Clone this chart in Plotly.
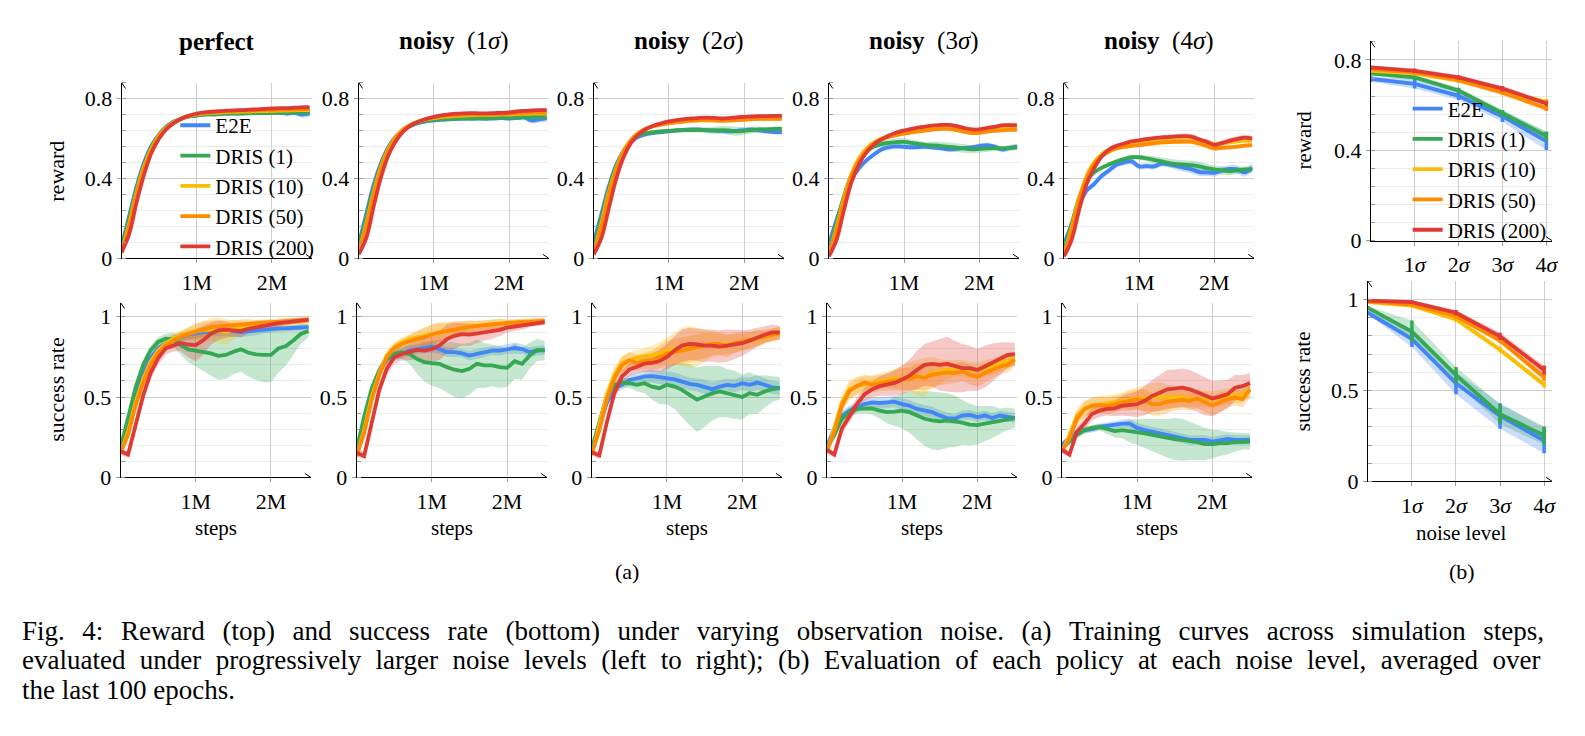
import plotly.graph_objects as go

FONT = "Liberation Serif"
W, H = 1585, 736

# ---------------- data ----------------
steps_m = [0.0, 0.1, 0.2, 0.3, 0.4, 0.5, 0.6, 0.7, 0.8, 0.9, 1.0, 1.1, 1.2,
           1.3, 1.4, 1.5, 1.6, 1.7, 1.8, 1.9, 2.0, 2.1, 2.2, 2.3, 2.4, 2.5]
noise_levels = [0, 1, 2, 3, 4]
series_names = ["E2E", "DRIS (1)", "DRIS (10)", "DRIS (50)", "DRIS (200)"]
series_colors = ["#4285F4", "#34A853", "#FBBC04", "#FF8C00", "#E03A34"]
series_fills = ["rgba(66,133,244,0.28)", "rgba(52,168,83,0.28)", "rgba(251,188,4,0.28)",
                "rgba(255,140,0,0.28)", "rgba(224,58,52,0.28)"]
panel_titles = ["<b>perfect</b>", "<b>noisy</b>  (1<i>σ</i>)", "<b>noisy</b>  (2<i>σ</i>)",
                "<b>noisy</b>  (3<i>σ</i>)", "<b>noisy</b>  (4<i>σ</i>)"]
step_tick_vals = [1, 2]
step_tick_text = ["1M", "2M"]
noise_tick_vals = [1, 2, 3, 4]
noise_tick_text = ["1<i>σ</i>", "2<i>σ</i>", "3<i>σ</i>", "4<i>σ</i>"]
reward_tick_vals = [0, 0.4, 0.8]
reward_tick_text = ["0", "0.4", "0.8"]
success_tick_vals = [0, 0.5, 1]
success_tick_text = ["0", "0.5", "1"]

# reward, perfect
reward_0s_e2e = [0.06, 0.21, 0.36, 0.48, 0.565, 0.62, 0.66, 0.685, 0.70, 0.71, 0.715, 0.72, 0.722, 0.724, 0.725, 0.726, 0.726, 0.727, 0.728, 0.728, 0.729, 0.73, 0.725, 0.728, 0.72, 0.725]
reward_0s_e2e_sd = [0.01, 0.015, 0.015, 0.012, 0.01, 0.008, 0.008, 0.008, 0.008, 0.008, 0.008, 0.008, 0.008, 0.008, 0.008, 0.008, 0.008, 0.008, 0.008, 0.01, 0.01, 0.01, 0.012, 0.012, 0.015, 0.015]
reward_0s_d1 = [0.05, 0.2, 0.35, 0.47, 0.56, 0.62, 0.66, 0.685, 0.70, 0.71, 0.715, 0.72, 0.72, 0.722, 0.724, 0.725, 0.725, 0.726, 0.727, 0.727, 0.728, 0.728, 0.729, 0.73, 0.73, 0.73]
reward_0s_d1_sd = [0.01, 0.012, 0.012, 0.01, 0.008, 0.008, 0.008, 0.008, 0.008, 0.008, 0.008, 0.008, 0.008, 0.008, 0.008, 0.008, 0.008, 0.008, 0.008, 0.008, 0.008, 0.01, 0.01, 0.01, 0.01, 0.01]
reward_0s_d10 = [0.03, 0.17, 0.33, 0.46, 0.55, 0.615, 0.655, 0.682, 0.70, 0.712, 0.72, 0.725, 0.728, 0.73, 0.732, 0.733, 0.734, 0.735, 0.736, 0.737, 0.738, 0.739, 0.74, 0.741, 0.742, 0.742]
reward_0s_d10_sd = [0.008, 0.01, 0.01, 0.008, 0.008, 0.006, 0.006, 0.006, 0.006, 0.006, 0.006, 0.006, 0.006, 0.006, 0.006, 0.006, 0.006, 0.006, 0.006, 0.006, 0.006, 0.006, 0.006, 0.006, 0.006, 0.006]
reward_0s_d50 = [0.03, 0.16, 0.32, 0.45, 0.545, 0.61, 0.652, 0.68, 0.70, 0.713, 0.722, 0.728, 0.731, 0.734, 0.736, 0.738, 0.739, 0.74, 0.741, 0.742, 0.743, 0.744, 0.745, 0.746, 0.747, 0.747]
reward_0s_d50_sd = [0.008, 0.01, 0.01, 0.008, 0.008, 0.006, 0.006, 0.006, 0.006, 0.006, 0.006, 0.006, 0.006, 0.006, 0.006, 0.006, 0.006, 0.006, 0.006, 0.006, 0.006, 0.006, 0.006, 0.006, 0.006, 0.006]
reward_0s_d200 = [0.03, 0.12, 0.28, 0.42, 0.53, 0.60, 0.648, 0.678, 0.70, 0.714, 0.724, 0.73, 0.734, 0.737, 0.739, 0.741, 0.742, 0.744, 0.746, 0.748, 0.75, 0.752, 0.752, 0.754, 0.756, 0.756]
reward_0s_d200_sd = [0.008, 0.01, 0.012, 0.01, 0.008, 0.006, 0.006, 0.006, 0.006, 0.006, 0.006, 0.006, 0.006, 0.006, 0.006, 0.006, 0.006, 0.006, 0.006, 0.006, 0.006, 0.006, 0.006, 0.008, 0.008, 0.008]

# reward, noisy 1 sigma
reward_1s_e2e = [0.07, 0.22, 0.37, 0.48, 0.56, 0.612, 0.645, 0.665, 0.678, 0.686, 0.69, 0.694, 0.696, 0.698, 0.70, 0.70, 0.70, 0.70, 0.70, 0.702, 0.70, 0.702, 0.705, 0.69, 0.695, 0.70]
reward_1s_e2e_sd = [0.01, 0.015, 0.015, 0.012, 0.01, 0.008, 0.008, 0.008, 0.008, 0.008, 0.008, 0.008, 0.008, 0.008, 0.008, 0.008, 0.008, 0.008, 0.008, 0.008, 0.01, 0.01, 0.01, 0.015, 0.015, 0.012]
reward_1s_d1 = [0.05, 0.2, 0.35, 0.47, 0.555, 0.61, 0.645, 0.665, 0.68, 0.688, 0.693, 0.696, 0.698, 0.70, 0.70, 0.70, 0.702, 0.70, 0.703, 0.705, 0.704, 0.706, 0.706, 0.708, 0.708, 0.708]
reward_1s_d1_sd = [0.01, 0.012, 0.012, 0.01, 0.008, 0.008, 0.008, 0.008, 0.008, 0.01, 0.01, 0.012, 0.012, 0.012, 0.01, 0.012, 0.012, 0.01, 0.01, 0.012, 0.012, 0.01, 0.01, 0.01, 0.01, 0.01]
reward_1s_d10 = [0.03, 0.17, 0.33, 0.46, 0.55, 0.61, 0.648, 0.67, 0.685, 0.695, 0.702, 0.707, 0.71, 0.713, 0.715, 0.716, 0.717, 0.718, 0.718, 0.72, 0.72, 0.722, 0.724, 0.725, 0.725, 0.725]
reward_1s_d10_sd = [0.008, 0.01, 0.01, 0.008, 0.008, 0.006, 0.006, 0.006, 0.006, 0.006, 0.006, 0.006, 0.006, 0.006, 0.006, 0.006, 0.006, 0.006, 0.006, 0.006, 0.006, 0.006, 0.006, 0.006, 0.006, 0.006]
reward_1s_d50 = [0.03, 0.16, 0.32, 0.45, 0.545, 0.605, 0.645, 0.67, 0.686, 0.697, 0.705, 0.71, 0.714, 0.717, 0.719, 0.72, 0.72, 0.72, 0.721, 0.722, 0.724, 0.726, 0.728, 0.73, 0.73, 0.73]
reward_1s_d50_sd = [0.008, 0.01, 0.01, 0.008, 0.008, 0.006, 0.006, 0.006, 0.006, 0.006, 0.006, 0.006, 0.006, 0.006, 0.006, 0.006, 0.006, 0.006, 0.006, 0.006, 0.006, 0.006, 0.006, 0.006, 0.006, 0.006]
reward_1s_d200 = [0.02, 0.1, 0.26, 0.41, 0.52, 0.59, 0.638, 0.667, 0.685, 0.698, 0.708, 0.715, 0.72, 0.724, 0.726, 0.727, 0.726, 0.726, 0.727, 0.728, 0.73, 0.735, 0.738, 0.74, 0.742, 0.742]
reward_1s_d200_sd = [0.008, 0.01, 0.012, 0.01, 0.008, 0.006, 0.006, 0.006, 0.006, 0.006, 0.006, 0.006, 0.006, 0.006, 0.006, 0.006, 0.006, 0.006, 0.006, 0.006, 0.006, 0.008, 0.008, 0.008, 0.008, 0.008]

# reward, noisy 2 sigma
reward_2s_e2e = [0.08, 0.22, 0.36, 0.47, 0.54, 0.585, 0.61, 0.622, 0.628, 0.632, 0.636, 0.64, 0.643, 0.645, 0.645, 0.642, 0.64, 0.638, 0.635, 0.638, 0.642, 0.645, 0.64, 0.636, 0.632, 0.632]
reward_2s_e2e_sd = [0.01, 0.015, 0.015, 0.012, 0.01, 0.01, 0.01, 0.01, 0.01, 0.01, 0.01, 0.01, 0.01, 0.01, 0.01, 0.01, 0.01, 0.01, 0.01, 0.01, 0.01, 0.01, 0.012, 0.012, 0.012, 0.012]
reward_2s_d1 = [0.05, 0.2, 0.35, 0.46, 0.54, 0.59, 0.615, 0.627, 0.632, 0.636, 0.638, 0.64, 0.642, 0.643, 0.642, 0.641, 0.64, 0.642, 0.64, 0.635, 0.638, 0.642, 0.645, 0.646, 0.648, 0.648]
reward_2s_d1_sd = [0.01, 0.012, 0.012, 0.01, 0.008, 0.008, 0.008, 0.008, 0.01, 0.01, 0.01, 0.012, 0.012, 0.012, 0.012, 0.015, 0.018, 0.02, 0.022, 0.022, 0.02, 0.018, 0.015, 0.012, 0.012, 0.012]
reward_2s_d10 = [0.03, 0.17, 0.33, 0.45, 0.54, 0.595, 0.628, 0.65, 0.662, 0.67, 0.676, 0.68, 0.684, 0.688, 0.69, 0.69, 0.689, 0.688, 0.689, 0.692, 0.695, 0.697, 0.698, 0.699, 0.70, 0.70]
reward_2s_d10_sd = [0.008, 0.01, 0.01, 0.008, 0.008, 0.006, 0.006, 0.006, 0.006, 0.006, 0.006, 0.006, 0.006, 0.006, 0.006, 0.006, 0.006, 0.006, 0.006, 0.006, 0.006, 0.006, 0.006, 0.006, 0.006, 0.006]
reward_2s_d50 = [0.03, 0.16, 0.32, 0.445, 0.535, 0.593, 0.628, 0.65, 0.662, 0.67, 0.677, 0.682, 0.686, 0.69, 0.692, 0.693, 0.692, 0.69, 0.691, 0.692, 0.695, 0.697, 0.698, 0.698, 0.698, 0.698]
reward_2s_d50_sd = [0.008, 0.01, 0.01, 0.008, 0.008, 0.006, 0.006, 0.006, 0.006, 0.006, 0.006, 0.006, 0.006, 0.006, 0.006, 0.006, 0.006, 0.006, 0.006, 0.006, 0.006, 0.006, 0.006, 0.006, 0.006, 0.006]
reward_2s_d200 = [0.02, 0.1, 0.25, 0.40, 0.51, 0.58, 0.622, 0.648, 0.665, 0.676, 0.685, 0.692, 0.697, 0.70, 0.703, 0.704, 0.703, 0.70, 0.702, 0.706, 0.708, 0.71, 0.712, 0.712, 0.713, 0.713]
reward_2s_d200_sd = [0.008, 0.01, 0.012, 0.01, 0.008, 0.006, 0.006, 0.006, 0.006, 0.006, 0.006, 0.006, 0.006, 0.006, 0.006, 0.006, 0.006, 0.006, 0.006, 0.008, 0.008, 0.008, 0.008, 0.008, 0.008, 0.008]

# reward, noisy 3 sigma
reward_3s_e2e = [0.07, 0.19, 0.30, 0.39, 0.45, 0.49, 0.52, 0.545, 0.556, 0.56, 0.558, 0.556, 0.557, 0.558, 0.554, 0.55, 0.545, 0.548, 0.552, 0.555, 0.562, 0.567, 0.56, 0.545, 0.552, 0.559]
reward_3s_e2e_sd = [0.01, 0.015, 0.015, 0.015, 0.012, 0.012, 0.012, 0.012, 0.012, 0.012, 0.012, 0.012, 0.012, 0.012, 0.012, 0.012, 0.012, 0.012, 0.012, 0.012, 0.012, 0.012, 0.012, 0.015, 0.015, 0.012]
reward_3s_d1 = [0.04, 0.17, 0.31, 0.42, 0.49, 0.535, 0.56, 0.572, 0.578, 0.582, 0.583, 0.578, 0.572, 0.567, 0.565, 0.562, 0.558, 0.554, 0.55, 0.546, 0.548, 0.55, 0.552, 0.55, 0.553, 0.556]
reward_3s_d1_sd = [0.01, 0.012, 0.012, 0.01, 0.01, 0.01, 0.012, 0.015, 0.018, 0.018, 0.018, 0.015, 0.015, 0.015, 0.018, 0.02, 0.022, 0.022, 0.022, 0.02, 0.02, 0.018, 0.015, 0.012, 0.012, 0.012]
reward_3s_d10 = [0.02, 0.15, 0.30, 0.42, 0.50, 0.55, 0.58, 0.60, 0.613, 0.622, 0.63, 0.636, 0.641, 0.646, 0.65, 0.653, 0.654, 0.65, 0.642, 0.638, 0.64, 0.645, 0.65, 0.655, 0.657, 0.657]
reward_3s_d10_sd = [0.008, 0.01, 0.01, 0.008, 0.008, 0.008, 0.008, 0.008, 0.008, 0.008, 0.008, 0.008, 0.008, 0.008, 0.008, 0.008, 0.008, 0.008, 0.008, 0.008, 0.008, 0.008, 0.008, 0.008, 0.008, 0.008]
reward_3s_d50 = [0.02, 0.14, 0.29, 0.41, 0.49, 0.54, 0.575, 0.595, 0.608, 0.617, 0.624, 0.63, 0.636, 0.64, 0.645, 0.648, 0.648, 0.642, 0.633, 0.627, 0.628, 0.634, 0.638, 0.64, 0.643, 0.643]
reward_3s_d50_sd = [0.008, 0.01, 0.01, 0.008, 0.008, 0.008, 0.008, 0.008, 0.008, 0.008, 0.008, 0.008, 0.008, 0.008, 0.008, 0.008, 0.008, 0.01, 0.01, 0.01, 0.01, 0.008, 0.008, 0.008, 0.008, 0.008]
reward_3s_d200 = [0.01, 0.09, 0.24, 0.38, 0.47, 0.53, 0.57, 0.595, 0.615, 0.63, 0.64, 0.648, 0.655, 0.661, 0.665, 0.668, 0.668, 0.662, 0.652, 0.645, 0.645, 0.652, 0.658, 0.665, 0.667, 0.665]
reward_3s_d200_sd = [0.008, 0.01, 0.012, 0.01, 0.008, 0.008, 0.008, 0.008, 0.008, 0.008, 0.008, 0.008, 0.008, 0.008, 0.008, 0.008, 0.008, 0.01, 0.01, 0.01, 0.01, 0.01, 0.01, 0.01, 0.01, 0.01]

# reward, noisy 4 sigma
reward_4s_e2e = [0.07, 0.17, 0.26, 0.339, 0.371, 0.412, 0.44, 0.469, 0.48, 0.485, 0.46, 0.462, 0.46, 0.474, 0.47, 0.462, 0.453, 0.445, 0.432, 0.43, 0.428, 0.44, 0.448, 0.445, 0.43, 0.453]
reward_4s_e2e_sd = [0.01, 0.015, 0.015, 0.015, 0.015, 0.015, 0.015, 0.015, 0.015, 0.015, 0.015, 0.015, 0.015, 0.015, 0.015, 0.018, 0.02, 0.02, 0.02, 0.018, 0.018, 0.018, 0.018, 0.02, 0.02, 0.02]
reward_4s_d1 = [0.04, 0.17, 0.30, 0.39, 0.43, 0.453, 0.47, 0.485, 0.497, 0.506, 0.506, 0.50, 0.493, 0.485, 0.477, 0.472, 0.469, 0.466, 0.46, 0.452, 0.445, 0.44, 0.436, 0.44, 0.445, 0.445]
reward_4s_d1_sd = [0.01, 0.012, 0.012, 0.01, 0.01, 0.01, 0.012, 0.012, 0.012, 0.012, 0.012, 0.015, 0.018, 0.02, 0.022, 0.022, 0.022, 0.022, 0.022, 0.022, 0.02, 0.02, 0.02, 0.018, 0.015, 0.015]
reward_4s_d10 = [0.02, 0.15, 0.30, 0.41, 0.48, 0.52, 0.545, 0.558, 0.566, 0.572, 0.578, 0.582, 0.585, 0.588, 0.59, 0.59, 0.59, 0.588, 0.583, 0.576, 0.572, 0.576, 0.58, 0.585, 0.589, 0.591]
reward_4s_d10_sd = [0.008, 0.01, 0.01, 0.01, 0.01, 0.01, 0.01, 0.01, 0.01, 0.01, 0.01, 0.01, 0.01, 0.01, 0.01, 0.01, 0.01, 0.01, 0.01, 0.01, 0.01, 0.01, 0.01, 0.01, 0.01, 0.01]
reward_4s_d50 = [0.02, 0.14, 0.29, 0.40, 0.47, 0.51, 0.535, 0.55, 0.558, 0.563, 0.567, 0.572, 0.576, 0.58, 0.582, 0.583, 0.584, 0.583, 0.574, 0.562, 0.55, 0.553, 0.556, 0.559, 0.564, 0.567]
reward_4s_d50_sd = [0.008, 0.01, 0.01, 0.01, 0.01, 0.01, 0.01, 0.01, 0.01, 0.01, 0.01, 0.01, 0.01, 0.01, 0.01, 0.01, 0.01, 0.01, 0.012, 0.012, 0.012, 0.01, 0.01, 0.01, 0.01, 0.01]
reward_4s_d200 = [0.01, 0.09, 0.24, 0.37, 0.45, 0.51, 0.545, 0.563, 0.575, 0.585, 0.591, 0.597, 0.602, 0.605, 0.608, 0.61, 0.612, 0.608, 0.595, 0.583, 0.568, 0.577, 0.588, 0.597, 0.604, 0.60]
reward_4s_d200_sd = [0.008, 0.01, 0.012, 0.01, 0.01, 0.01, 0.01, 0.01, 0.01, 0.01, 0.01, 0.01, 0.01, 0.01, 0.012, 0.012, 0.014, 0.014, 0.014, 0.014, 0.014, 0.014, 0.014, 0.014, 0.012, 0.012]

# success, perfect
success_0s_e2e = [0.163, 0.325, 0.508, 0.65, 0.742, 0.803, 0.833, 0.854, 0.874, 0.888, 0.898, 0.904, 0.91, 0.912, 0.915, 0.91, 0.904, 0.91, 0.915, 0.92, 0.925, 0.927, 0.928, 0.93, 0.933, 0.935]
success_0s_e2e_sd = [0.02, 0.03, 0.03, 0.03, 0.03, 0.03, 0.03, 0.03, 0.03, 0.03, 0.03, 0.03, 0.03, 0.035, 0.035, 0.035, 0.03, 0.03, 0.03, 0.025, 0.025, 0.02, 0.02, 0.02, 0.02, 0.02]
success_0s_d1 = [0.183, 0.366, 0.559, 0.70, 0.79, 0.843, 0.864, 0.86, 0.823, 0.797, 0.79, 0.782, 0.772, 0.756, 0.762, 0.782, 0.797, 0.776, 0.766, 0.762, 0.762, 0.803, 0.817, 0.854, 0.894, 0.91]
success_0s_d1_sd = [0.02, 0.03, 0.03, 0.03, 0.03, 0.03, 0.03, 0.04, 0.06, 0.08, 0.1, 0.12, 0.14, 0.15, 0.15, 0.14, 0.14, 0.15, 0.16, 0.17, 0.17, 0.15, 0.12, 0.09, 0.06, 0.04]
success_0s_d10 = [0.152, 0.285, 0.467, 0.61, 0.72, 0.79, 0.833, 0.864, 0.884, 0.898, 0.91, 0.915, 0.92, 0.915, 0.904, 0.92, 0.935, 0.94, 0.945, 0.95, 0.955, 0.96, 0.965, 0.968, 0.972, 0.975]
success_0s_d10_sd = [0.02, 0.03, 0.03, 0.03, 0.03, 0.03, 0.03, 0.03, 0.03, 0.04, 0.05, 0.06, 0.07, 0.08, 0.08, 0.06, 0.04, 0.03, 0.03, 0.03, 0.02, 0.02, 0.02, 0.02, 0.02, 0.02]
success_0s_d50 = [0.152, 0.264, 0.447, 0.589, 0.70, 0.776, 0.823, 0.854, 0.878, 0.892, 0.904, 0.92, 0.935, 0.94, 0.945, 0.951, 0.953, 0.956, 0.96, 0.963, 0.965, 0.968, 0.972, 0.975, 0.978, 0.98]
success_0s_d50_sd = [0.02, 0.03, 0.03, 0.03, 0.03, 0.03, 0.03, 0.03, 0.03, 0.04, 0.05, 0.05, 0.04, 0.04, 0.03, 0.03, 0.03, 0.03, 0.02, 0.02, 0.02, 0.02, 0.02, 0.02, 0.02, 0.02]
success_0s_d200 = [0.163, 0.142, 0.325, 0.508, 0.65, 0.742, 0.803, 0.823, 0.837, 0.827, 0.823, 0.854, 0.894, 0.915, 0.919, 0.915, 0.91, 0.925, 0.935, 0.945, 0.955, 0.96, 0.965, 0.972, 0.976, 0.982]
success_0s_d200_sd = [0.02, 0.02, 0.03, 0.04, 0.04, 0.04, 0.04, 0.04, 0.05, 0.08, 0.1, 0.09, 0.07, 0.06, 0.05, 0.04, 0.04, 0.03, 0.03, 0.03, 0.02, 0.02, 0.02, 0.02, 0.015, 0.015]

# success, noisy 1 sigma
success_1s_e2e = [0.154, 0.338, 0.522, 0.656, 0.738, 0.758, 0.768, 0.789, 0.799, 0.809, 0.813, 0.799, 0.779, 0.779, 0.772, 0.758, 0.768, 0.779, 0.789, 0.789, 0.799, 0.805, 0.799, 0.779, 0.789, 0.793]
success_1s_e2e_sd = [0.02, 0.03, 0.03, 0.035, 0.035, 0.03, 0.03, 0.03, 0.03, 0.035, 0.035, 0.03, 0.03, 0.03, 0.025, 0.03, 0.03, 0.03, 0.025, 0.03, 0.03, 0.035, 0.03, 0.03, 0.03, 0.03]
success_1s_d1 = [0.174, 0.379, 0.553, 0.666, 0.738, 0.768, 0.779, 0.768, 0.738, 0.717, 0.711, 0.707, 0.686, 0.67, 0.662, 0.676, 0.707, 0.697, 0.697, 0.686, 0.682, 0.723, 0.707, 0.758, 0.793, 0.789]
success_1s_d1_sd = [0.02, 0.03, 0.03, 0.03, 0.03, 0.03, 0.04, 0.06, 0.09, 0.12, 0.14, 0.15, 0.16, 0.17, 0.17, 0.16, 0.15, 0.14, 0.13, 0.13, 0.12, 0.11, 0.1, 0.08, 0.07, 0.06]
success_1s_d10 = [0.133, 0.297, 0.502, 0.645, 0.758, 0.809, 0.84, 0.861, 0.871, 0.881, 0.891, 0.902, 0.912, 0.92, 0.928, 0.935, 0.943, 0.948, 0.953, 0.956, 0.959, 0.962, 0.965, 0.968, 0.97, 0.973]
success_1s_d10_sd = [0.02, 0.03, 0.03, 0.03, 0.03, 0.03, 0.03, 0.03, 0.04, 0.05, 0.06, 0.06, 0.05, 0.05, 0.04, 0.04, 0.03, 0.03, 0.03, 0.03, 0.02, 0.02, 0.02, 0.02, 0.02, 0.02]
success_1s_d50 = [0.133, 0.277, 0.482, 0.635, 0.748, 0.805, 0.83, 0.846, 0.861, 0.871, 0.891, 0.902, 0.912, 0.922, 0.932, 0.937, 0.943, 0.948, 0.953, 0.958, 0.963, 0.965, 0.967, 0.969, 0.971, 0.973]
success_1s_d50_sd = [0.02, 0.03, 0.03, 0.03, 0.03, 0.03, 0.03, 0.04, 0.05, 0.06, 0.06, 0.06, 0.05, 0.05, 0.04, 0.04, 0.03, 0.03, 0.03, 0.03, 0.02, 0.02, 0.02, 0.02, 0.02, 0.02]
success_1s_d200 = [0.154, 0.133, 0.338, 0.543, 0.676, 0.748, 0.768, 0.779, 0.793, 0.789, 0.799, 0.82, 0.861, 0.881, 0.891, 0.888, 0.895, 0.902, 0.912, 0.918, 0.932, 0.94, 0.949, 0.956, 0.963, 0.967]
success_1s_d200_sd = [0.02, 0.02, 0.03, 0.04, 0.04, 0.04, 0.04, 0.05, 0.06, 0.07, 0.08, 0.09, 0.09, 0.08, 0.07, 0.07, 0.06, 0.05, 0.05, 0.04, 0.03, 0.03, 0.03, 0.02, 0.02, 0.02]

# success, noisy 2 sigma
success_2s_e2e = [0.167, 0.32, 0.463, 0.555, 0.576, 0.606, 0.616, 0.627, 0.63, 0.622, 0.616, 0.61, 0.596, 0.582, 0.576, 0.565, 0.549, 0.565, 0.576, 0.57, 0.586, 0.576, 0.59, 0.576, 0.561, 0.555]
success_2s_e2e_sd = [0.02, 0.03, 0.03, 0.03, 0.03, 0.03, 0.035, 0.04, 0.04, 0.04, 0.045, 0.045, 0.04, 0.04, 0.04, 0.045, 0.045, 0.04, 0.04, 0.04, 0.04, 0.045, 0.045, 0.04, 0.04, 0.04]
success_2s_d1 = [0.178, 0.341, 0.504, 0.576, 0.59, 0.586, 0.576, 0.586, 0.565, 0.555, 0.576, 0.565, 0.545, 0.514, 0.484, 0.504, 0.524, 0.535, 0.524, 0.514, 0.50, 0.524, 0.514, 0.535, 0.549, 0.555]
success_2s_d1_sd = [0.02, 0.03, 0.03, 0.03, 0.03, 0.03, 0.04, 0.06, 0.08, 0.1, 0.12, 0.14, 0.17, 0.19, 0.2, 0.19, 0.17, 0.16, 0.15, 0.15, 0.14, 0.13, 0.12, 0.1, 0.08, 0.07]
success_2s_d10 = [0.137, 0.32, 0.514, 0.637, 0.712, 0.729, 0.745, 0.753, 0.76, 0.77, 0.79, 0.80, 0.81, 0.814, 0.81, 0.82, 0.831, 0.831, 0.827, 0.835, 0.841, 0.85, 0.861, 0.872, 0.882, 0.896]
success_2s_d10_sd = [0.02, 0.03, 0.04, 0.05, 0.05, 0.05, 0.05, 0.05, 0.06, 0.07, 0.08, 0.1, 0.12, 0.13, 0.12, 0.1, 0.08, 0.07, 0.06, 0.06, 0.05, 0.05, 0.05, 0.04, 0.04, 0.04]
success_2s_d50 = [0.147, 0.29, 0.484, 0.616, 0.698, 0.729, 0.712, 0.724, 0.729, 0.749, 0.77, 0.78, 0.79, 0.80, 0.81, 0.82, 0.831, 0.831, 0.82, 0.835, 0.847, 0.857, 0.867, 0.878, 0.888, 0.896]
success_2s_d50_sd = [0.02, 0.03, 0.04, 0.05, 0.05, 0.05, 0.05, 0.05, 0.06, 0.07, 0.08, 0.08, 0.08, 0.08, 0.08, 0.08, 0.07, 0.07, 0.07, 0.06, 0.06, 0.05, 0.05, 0.04, 0.04, 0.04]
success_2s_d200 = [0.157, 0.137, 0.341, 0.524, 0.627, 0.671, 0.688, 0.708, 0.712, 0.724, 0.749, 0.79, 0.82, 0.831, 0.827, 0.82, 0.82, 0.814, 0.82, 0.827, 0.835, 0.851, 0.871, 0.888, 0.902, 0.902]
success_2s_d200_sd = [0.02, 0.02, 0.03, 0.04, 0.04, 0.04, 0.04, 0.05, 0.06, 0.07, 0.08, 0.09, 0.1, 0.1, 0.1, 0.1, 0.1, 0.1, 0.1, 0.09, 0.08, 0.07, 0.06, 0.05, 0.05, 0.04]

# success, noisy 3 sigma
success_3s_e2e = [0.193, 0.304, 0.385, 0.416, 0.436, 0.456, 0.467, 0.463, 0.467, 0.471, 0.456, 0.446, 0.426, 0.416, 0.406, 0.385, 0.369, 0.365, 0.385, 0.389, 0.375, 0.385, 0.369, 0.385, 0.375, 0.369]
success_3s_e2e_sd = [0.02, 0.03, 0.03, 0.03, 0.03, 0.03, 0.03, 0.035, 0.035, 0.035, 0.035, 0.035, 0.035, 0.035, 0.035, 0.035, 0.035, 0.03, 0.03, 0.03, 0.03, 0.03, 0.03, 0.03, 0.03, 0.03]
success_3s_d1 = [0.183, 0.264, 0.365, 0.406, 0.426, 0.43, 0.43, 0.416, 0.406, 0.41, 0.416, 0.406, 0.385, 0.365, 0.355, 0.349, 0.355, 0.349, 0.341, 0.329, 0.325, 0.335, 0.345, 0.349, 0.365, 0.369]
success_3s_d1_sd = [0.02, 0.03, 0.03, 0.03, 0.03, 0.03, 0.04, 0.05, 0.07, 0.09, 0.11, 0.13, 0.15, 0.17, 0.18, 0.18, 0.17, 0.16, 0.14, 0.13, 0.12, 0.11, 0.1, 0.08, 0.07, 0.06]
success_3s_d10 = [0.152, 0.304, 0.467, 0.548, 0.568, 0.578, 0.588, 0.598, 0.609, 0.614, 0.619, 0.629, 0.619, 0.625, 0.649, 0.659, 0.669, 0.68, 0.68, 0.669, 0.665, 0.68, 0.69, 0.71, 0.726, 0.74]
success_3s_d10_sd = [0.02, 0.03, 0.05, 0.06, 0.06, 0.05, 0.05, 0.05, 0.05, 0.06, 0.07, 0.09, 0.11, 0.12, 0.1, 0.08, 0.06, 0.05, 0.05, 0.05, 0.05, 0.05, 0.05, 0.05, 0.05, 0.04]
success_3s_d50 = [0.162, 0.284, 0.446, 0.538, 0.568, 0.592, 0.578, 0.588, 0.592, 0.604, 0.609, 0.614, 0.629, 0.62, 0.639, 0.645, 0.653, 0.649, 0.659, 0.639, 0.625, 0.649, 0.669, 0.69, 0.70, 0.734]
success_3s_d50_sd = [0.02, 0.03, 0.04, 0.05, 0.05, 0.05, 0.05, 0.05, 0.05, 0.06, 0.07, 0.07, 0.08, 0.08, 0.08, 0.07, 0.07, 0.06, 0.06, 0.06, 0.06, 0.06, 0.05, 0.05, 0.05, 0.04]
success_3s_d200 = [0.172, 0.142, 0.304, 0.385, 0.456, 0.517, 0.548, 0.568, 0.578, 0.588, 0.609, 0.633, 0.669, 0.70, 0.706, 0.70, 0.706, 0.69, 0.68, 0.68, 0.669, 0.69, 0.714, 0.74, 0.761, 0.767]
success_3s_d200_sd = [0.02, 0.02, 0.03, 0.04, 0.04, 0.04, 0.05, 0.06, 0.07, 0.08, 0.09, 0.1, 0.12, 0.13, 0.14, 0.16, 0.17, 0.16, 0.15, 0.14, 0.13, 0.13, 0.12, 0.1, 0.08, 0.07]

# success, noisy 4 sigma
success_4s_e2e = [0.203, 0.243, 0.284, 0.294, 0.30, 0.314, 0.32, 0.325, 0.335, 0.335, 0.308, 0.294, 0.284, 0.274, 0.264, 0.254, 0.243, 0.233, 0.233, 0.233, 0.223, 0.233, 0.239, 0.233, 0.233, 0.233]
success_4s_e2e_sd = [0.02, 0.02, 0.02, 0.02, 0.02, 0.02, 0.02, 0.025, 0.025, 0.03, 0.03, 0.03, 0.03, 0.03, 0.03, 0.03, 0.03, 0.03, 0.03, 0.03, 0.03, 0.03, 0.03, 0.03, 0.03, 0.03]
success_4s_d1 = [0.183, 0.223, 0.264, 0.294, 0.308, 0.314, 0.30, 0.288, 0.294, 0.288, 0.284, 0.274, 0.264, 0.254, 0.243, 0.239, 0.233, 0.227, 0.219, 0.207, 0.207, 0.213, 0.213, 0.219, 0.223, 0.223]
success_4s_d1_sd = [0.02, 0.02, 0.02, 0.02, 0.02, 0.02, 0.03, 0.04, 0.05, 0.07, 0.08, 0.09, 0.1, 0.11, 0.12, 0.13, 0.13, 0.12, 0.11, 0.1, 0.09, 0.08, 0.07, 0.06, 0.05, 0.05]
success_4s_d10 = [0.162, 0.264, 0.385, 0.426, 0.446, 0.456, 0.46, 0.467, 0.477, 0.487, 0.491, 0.497, 0.497, 0.503, 0.497, 0.503, 0.497, 0.491, 0.487, 0.491, 0.487, 0.497, 0.503, 0.511, 0.517, 0.548]
success_4s_d10_sd = [0.02, 0.03, 0.05, 0.05, 0.05, 0.05, 0.05, 0.05, 0.05, 0.06, 0.07, 0.08, 0.09, 0.09, 0.08, 0.07, 0.06, 0.05, 0.05, 0.05, 0.05, 0.05, 0.05, 0.05, 0.05, 0.05]
success_4s_d50 = [0.162, 0.243, 0.365, 0.426, 0.446, 0.45, 0.446, 0.456, 0.467, 0.477, 0.487, 0.477, 0.456, 0.456, 0.471, 0.477, 0.483, 0.477, 0.491, 0.467, 0.446, 0.467, 0.487, 0.497, 0.487, 0.548]
success_4s_d50_sd = [0.02, 0.03, 0.04, 0.05, 0.05, 0.05, 0.05, 0.05, 0.05, 0.06, 0.06, 0.07, 0.07, 0.07, 0.07, 0.06, 0.06, 0.06, 0.06, 0.06, 0.06, 0.06, 0.05, 0.05, 0.05, 0.05]
success_4s_d200 = [0.172, 0.142, 0.284, 0.335, 0.395, 0.416, 0.426, 0.43, 0.446, 0.45, 0.456, 0.477, 0.507, 0.527, 0.548, 0.552, 0.558, 0.548, 0.527, 0.507, 0.491, 0.503, 0.517, 0.558, 0.568, 0.588]
success_4s_d200_sd = [0.02, 0.02, 0.03, 0.04, 0.04, 0.04, 0.04, 0.05, 0.06, 0.07, 0.08, 0.09, 0.1, 0.11, 0.12, 0.12, 0.12, 0.12, 0.12, 0.12, 0.11, 0.1, 0.09, 0.08, 0.07, 0.06]

# (b) evaluation at each noise level
eval_reward_e2e = [0.716, 0.694, 0.641, 0.55, 0.441]
eval_reward_e2e_sd = [0.012, 0.02, 0.018, 0.025, 0.04]
eval_reward_d1 = [0.741, 0.723, 0.665, 0.564, 0.463]
eval_reward_d1_sd = [0.01, 0.012, 0.012, 0.015, 0.02]
eval_reward_d10 = [0.752, 0.741, 0.709, 0.658, 0.615]
eval_reward_d10_sd = [0.008, 0.01, 0.01, 0.01, 0.012]
eval_reward_d50 = [0.76, 0.745, 0.712, 0.655, 0.586]
eval_reward_d50_sd = [0.008, 0.01, 0.01, 0.01, 0.012]
eval_reward_d200 = [0.767, 0.752, 0.723, 0.673, 0.608]
eval_reward_d200_sd = [0.008, 0.01, 0.01, 0.012, 0.012]

eval_success_e2e = [0.928, 0.784, 0.54, 0.36, 0.225]
eval_success_e2e_sd = [0.01, 0.045, 0.06, 0.07, 0.07]
eval_success_d1 = [0.955, 0.825, 0.585, 0.37, 0.252]
eval_success_d1_sd = [0.01, 0.06, 0.045, 0.055, 0.05]
eval_success_d10 = [0.987, 0.967, 0.892, 0.724, 0.532]
eval_success_d10_sd = [0.005, 0.01, 0.015, 0.015, 0.015]
eval_success_d50 = [0.99, 0.973, 0.91, 0.775, 0.573]
eval_success_d50_sd = [0.005, 0.01, 0.015, 0.015, 0.02]
eval_success_d200 = [0.995, 0.986, 0.928, 0.798, 0.613]
eval_success_d200_sd = [0.005, 0.01, 0.015, 0.02, 0.025]

caption_lines = [
    "Fig. 4: Reward (top) and success rate (bottom) under varying observation noise. (a) Training curves across simulation steps,",
    "evaluated under progressively larger noise levels (left to right); (b) Evaluation of each policy at each noise level, averaged over",
    "the last 100 epochs.",
]

# ---------------- grouping ----------------
reward_panels = [
    [(reward_0s_e2e, reward_0s_e2e_sd), (reward_0s_d1, reward_0s_d1_sd), (reward_0s_d10, reward_0s_d10_sd), (reward_0s_d50, reward_0s_d50_sd), (reward_0s_d200, reward_0s_d200_sd)],
    [(reward_1s_e2e, reward_1s_e2e_sd), (reward_1s_d1, reward_1s_d1_sd), (reward_1s_d10, reward_1s_d10_sd), (reward_1s_d50, reward_1s_d50_sd), (reward_1s_d200, reward_1s_d200_sd)],
    [(reward_2s_e2e, reward_2s_e2e_sd), (reward_2s_d1, reward_2s_d1_sd), (reward_2s_d10, reward_2s_d10_sd), (reward_2s_d50, reward_2s_d50_sd), (reward_2s_d200, reward_2s_d200_sd)],
    [(reward_3s_e2e, reward_3s_e2e_sd), (reward_3s_d1, reward_3s_d1_sd), (reward_3s_d10, reward_3s_d10_sd), (reward_3s_d50, reward_3s_d50_sd), (reward_3s_d200, reward_3s_d200_sd)],
    [(reward_4s_e2e, reward_4s_e2e_sd), (reward_4s_d1, reward_4s_d1_sd), (reward_4s_d10, reward_4s_d10_sd), (reward_4s_d50, reward_4s_d50_sd), (reward_4s_d200, reward_4s_d200_sd)],
]
success_panels = [
    [(success_0s_e2e, success_0s_e2e_sd), (success_0s_d1, success_0s_d1_sd), (success_0s_d10, success_0s_d10_sd), (success_0s_d50, success_0s_d50_sd), (success_0s_d200, success_0s_d200_sd)],
    [(success_1s_e2e, success_1s_e2e_sd), (success_1s_d1, success_1s_d1_sd), (success_1s_d10, success_1s_d10_sd), (success_1s_d50, success_1s_d50_sd), (success_1s_d200, success_1s_d200_sd)],
    [(success_2s_e2e, success_2s_e2e_sd), (success_2s_d1, success_2s_d1_sd), (success_2s_d10, success_2s_d10_sd), (success_2s_d50, success_2s_d50_sd), (success_2s_d200, success_2s_d200_sd)],
    [(success_3s_e2e, success_3s_e2e_sd), (success_3s_d1, success_3s_d1_sd), (success_3s_d10, success_3s_d10_sd), (success_3s_d50, success_3s_d50_sd), (success_3s_d200, success_3s_d200_sd)],
    [(success_4s_e2e, success_4s_e2e_sd), (success_4s_d1, success_4s_d1_sd), (success_4s_d10, success_4s_d10_sd), (success_4s_d50, success_4s_d50_sd), (success_4s_d200, success_4s_d200_sd)],
]
eval_reward = [(eval_reward_e2e, eval_reward_e2e_sd), (eval_reward_d1, eval_reward_d1_sd), (eval_reward_d10, eval_reward_d10_sd), (eval_reward_d50, eval_reward_d50_sd), (eval_reward_d200, eval_reward_d200_sd)]
eval_success = [(eval_success_e2e, eval_success_e2e_sd), (eval_success_d1, eval_success_d1_sd), (eval_success_d10, eval_success_d10_sd), (eval_success_d50, eval_success_d50_sd), (eval_success_d200, eval_success_d200_sd)]

# ---------------- geometry (pixels) ----------------
top_lefts = [122, 360, 596, 832, 1068]
bot_lefts = [121, 358, 594, 830, 1066]
PANEL_W = 191
TOP_Y = (84, 263)
BOT_Y = (308, 486)
STEP_RANGE = [0, 2.53]
REWARD_RANGE = [0, 0.88]
SUCCESS_RANGE = [0, 1.088]

GRID = "#cfcfcf"
MINOR = "#ececec"
TICKC = "#9a9a9a"


def pxx(x):
    return x / W


def pxy(y):
    return 1 - y / H


def ax_names(i):
    return ("x" if i == 1 else f"x{i}", "y" if i == 1 else f"y{i}")


def ax_keys(i):
    return ("xaxis" if i == 1 else f"xaxis{i}", "yaxis" if i == 1 else f"yaxis{i}")


tickfont = dict(family=FONT, size=22, color="black")

fig = go.Figure()
layout_axes = {}
shapes = []


def make_axes(i, xpix, ypix, xrange, yrange, xtv, xtt, ytv, ytt, ydt):
    xn, yn = ax_names(i)
    xk, yk = ax_keys(i)
    layout_axes[xk] = dict(
        domain=[pxx(xpix[0]), pxx(xpix[1])], anchor=yn, range=xrange,
        showline=True, linecolor="black", linewidth=1, zeroline=False,
        tickmode="array", tickvals=xtv, ticktext=xtt, tickfont=tickfont,
        showgrid=True, gridcolor=GRID, gridwidth=1,
        ticks="outside", ticklen=4, tickcolor=TICKC, fixedrange=True)
    layout_axes[yk] = dict(
        domain=[pxy(ypix[1]), pxy(ypix[0])], anchor=xn, range=yrange,
        showline=True, linecolor="black", linewidth=1, zeroline=False,
        tickmode="array", tickvals=ytv, ticktext=ytt, tickfont=tickfont,
        showgrid=True, gridcolor=GRID, gridwidth=1,
        ticks="outside", ticklen=4, tickcolor=TICKC,
        minor=dict(tickmode="linear", tick0=0, dtick=ydt, showgrid=True,
                   gridcolor=MINOR, gridwidth=1, ticks="inside", ticklen=4, tickcolor=TICKC),
        fixedrange=True)
    shapes.append(dict(type="path", xref=xn, yref=yn, xsizemode="pixel", ysizemode="pixel",
                       xanchor=xrange[1], yanchor=0, path="M -6,4 L 0,0 L -6,-4",
                       line=dict(color="black", width=1)))
    shapes.append(dict(type="path", xref=xn, yref=yn, xsizemode="pixel", ysizemode="pixel",
                       xanchor=0, yanchor=yrange[1], path="M -4,-6 L 0,0 L 4,-6",
                       line=dict(color="black", width=1)))


def add_series(i, xs, data, shape, legend_name=None, errors=False):
    xn, yn = ax_names(i)
    for k, (mean, sd) in enumerate(data):
        upper = [m + s for m, s in zip(mean, sd)]
        lower = [m - s for m, s in zip(mean, sd)]
        fig.add_trace(go.Scatter(
            x=list(xs) + list(xs)[::-1], y=upper + lower[::-1], xaxis=xn, yaxis=yn,
            fill="toself", fillcolor=series_fills[k], line=dict(width=0, shape=shape),
            mode="lines", hoverinfo="skip", showlegend=False))
    for k, (mean, sd) in enumerate(data):
        kw = {}
        if errors:
            kw["error_y"] = dict(type="data", array=sd, visible=True, thickness=3.5,
                                 width=0, color=series_colors[k])
        fig.add_trace(go.Scatter(
            x=xs, y=mean, xaxis=xn, yaxis=yn, mode="lines", name=series_names[k],
            line=dict(color=series_colors[k], width=3.8, shape=shape),
            showlegend=legend_name is not None,
            legend=legend_name if legend_name else "legend", **kw))


for p in range(5):
    i = p + 1
    make_axes(i, (top_lefts[p], top_lefts[p] + PANEL_W), TOP_Y, STEP_RANGE, REWARD_RANGE,
              step_tick_vals, step_tick_text, reward_tick_vals, reward_tick_text, 0.08)
    add_series(i, steps_m, reward_panels[p], "spline", legend_name="legend" if p == 0 else None)
    j = p + 6
    make_axes(j, (bot_lefts[p], bot_lefts[p] + PANEL_W), BOT_Y, STEP_RANGE, SUCCESS_RANGE,
              step_tick_vals, step_tick_text, success_tick_vals, success_tick_text, 0.1)
    add_series(j, steps_m, success_panels[p], "linear")

make_axes(11, (1376, 1558), (42, 245), [0, 4.13], [0, 0.883],
          noise_tick_vals, noise_tick_text, reward_tick_vals, reward_tick_text, 0.08)
add_series(11, noise_levels, eval_reward, "linear", legend_name="legend2", errors=True)
make_axes(12, (1373, 1558), (286, 490), [0, 4.18], [0, 1.103],
          noise_tick_vals, noise_tick_text, success_tick_vals, success_tick_text, 0.1)
add_series(12, noise_levels, eval_success, "linear", errors=True)

# ---------------- text ----------------
annotations = []


def text(x, y, s, size=20, angle=0, xanchor="center", **kw):
    annotations.append(dict(x=pxx(x), y=pxy(y), xref="paper", yref="paper", text=s,
                            showarrow=False, textangle=angle, xanchor=xanchor, yanchor="middle",
                            font=dict(family=FONT, size=size, color="black"), **kw))


def justify(line, pad):
    """Widen every word gap by `pad` (thin/hair spaces) to mimic justified text."""
    return (" " + pad).join(line.split(" "))


for p in range(5):
    text(top_lefts[p] + PANEL_W / 2, 42, panel_titles[p], size=25)
    text(bot_lefts[p] + PANEL_W / 2, 537, "steps", size=21)
text(57, 174, "reward", size=22, angle=-90)
text(57, 397, "success rate", size=22, angle=-90)
text(1309, 143, "reward", size=21, angle=-90)
text(1308, 388, "success rate", size=21, angle=-90)
text(1467, 543, "noise level", size=21)
text(629, 582, "(a)", size=22)
text(1468, 582, "(b)", size=22)

caption_pads = ["\u2009\u2009", "\u2009\u200a", ""]
for n, line in enumerate(caption_lines):
    text(20, 642 + 30 * n, justify(line, caption_pads[n]), size=27, xanchor="left")

legend_font = dict(family=FONT, size=21, color="black")
fig.update_layout(
    width=W, height=H, margin=dict(l=0, r=0, t=0, b=0),
    paper_bgcolor="white", plot_bgcolor="white",
    font=dict(family=FONT, color="black"),
    annotations=annotations, shapes=shapes,
    legend=dict(x=pxx(176), y=pxy(107), xanchor="left", yanchor="top",
                bgcolor="rgba(0,0,0,0)", font=legend_font,
                tracegroupgap=0, itemwidth=30),
    legend2=dict(x=pxx(1413), y=pxy(90), xanchor="left", yanchor="top",
                 bgcolor="rgba(0,0,0,0)", font=legend_font,
                 tracegroupgap=0, itemwidth=30),
    **layout_axes,
)

fig.write_html("out.html")
